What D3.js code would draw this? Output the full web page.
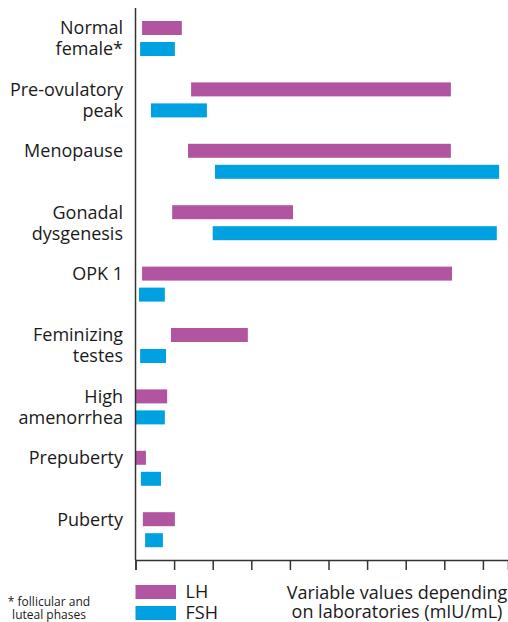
<!DOCTYPE html>
<html>
<head>
<meta charset="utf-8">
<script src="https://cdn.jsdelivr.net/npm/d3@7"></script>
<style>
  body { margin: 0; background: #fff; }
  svg text { font-family: "Open Sans", Lato, sans-serif; fill: #1a1a1a; }
</style>
</head>
<body>
<div id="chart"></div>
<script>
// categories, label lines, and ranges (in axis units, ticks at 0..9)
const categories = ['Normal female', 'Pre-ovulatory peak', 'Menopause', 'Gonadal dysgenesis',
  'OPK 1', 'Feminizing testes', 'High amenorrhea', 'Prepuberty', 'Puberty'];
const labelLines = [['Normal', 'female*'], ['Pre-ovulatory', 'peak'], ['Menopause'],
  ['Gonadal', 'dysgenesis'], ['OPK 1'], ['Feminizing', 'testes'], ['High', 'amenorrhea'],
  ['Prepuberty'], ['Puberty']];
const lhRanges = [[0.17, 1.2], [1.44, 8.17], [1.36, 8.17], [0.95, 4.08], [0.17, 8.2],
  [0.92, 2.91], [0, 0.82], [0, 0.27], [0.19, 1.02]];
const fshRanges = [[0.12, 1.02], [0.4, 1.85], [2.06, 9.42], [2.0, 9.36], [0.09, 0.76],
  [0.12, 0.79], [0, 0.76], [0.14, 0.66], [0.25, 0.71]];
const tickValues = [0, 1, 2, 3, 4, 5, 6, 7, 8, 9];
const seriesNames = ['LH', 'FSH'];
const colors = { LH: '#b155a0', FSH: '#00a1e0' };

const W = 508, H = 622;
const axisX = 135.5, axisTop = 8, baseY = 560;

const svg = d3.select('#chart').append('svg')
    .attr('width', W)
    .attr('height', H);

const x = d3.scaleLinear()
    .domain([0, 9.65])
    .range([axisX, W]);

const y = d3.scaleBand()
    .domain(categories)
    .range([21, 21 + 61.4 * 9])
    .paddingInner(0)
    .paddingOuter(0);

const barH = 14, gap = 21;

// bars
const groups = svg.append('g').selectAll('g')
    .data(categories)
  .enter().append('g');

groups.append('rect')
    .attr('x', (d, i) => x(lhRanges[i][0]))
    .attr('width', (d, i) => x(lhRanges[i][1]) - x(lhRanges[i][0]))
    .attr('y', d => y(d))
    .attr('height', barH)
    .attr('fill', colors.LH);

groups.append('rect')
    .attr('x', (d, i) => x(fshRanges[i][0]))
    .attr('width', (d, i) => x(fshRanges[i][1]) - x(fshRanges[i][0]))
    .attr('y', d => y(d) + gap)
    .attr('height', barH)
    .attr('fill', colors.FSH);

// category labels, one line per bar row
groups.each(function(d, i) {
    const g = d3.select(this);
    labelLines[i].forEach((line, k) => {
        g.append('text')
            .attr('x', 123)
            .attr('y', y(d) + barH / 2 + k * gap)
            .attr('dy', '0.35em')
            .attr('text-anchor', 'end')
            .style('font-size', '18px')
            .text(line);
    });
});

// axes
const axis = svg.append('g')
    .attr('transform', `translate(0, ${baseY})`)
    .call(d3.axisBottom(x).tickValues(tickValues).tickSize(10).tickFormat(''));
axis.select('.domain').attr('stroke', '#333').attr('stroke-width', 1.5);
axis.selectAll('.tick line').attr('stroke', '#333').attr('stroke-width', 1.5);

svg.append('line')
    .attr('x1', axisX).attr('x2', axisX)
    .attr('y1', axisTop).attr('y2', baseY)
    .attr('stroke', '#333')
    .attr('stroke-width', 1.5);

// legend
const legend = svg.append('g').selectAll('g')
    .data(seriesNames)
  .enter().append('g')
    .attr('transform', (d, i) => `translate(${axisX}, ${585 + i * 21})`);
legend.append('rect')
    .attr('width', 40.5)
    .attr('height', barH)
    .attr('fill', d => colors[d]);
legend.append('text')
    .attr('x', 50)
    .attr('y', barH / 2)
    .attr('dy', '0.35em')
    .style('font-size', '18px')
    .text(d => d);

// axis title
svg.append('text')
    .attr('x', 397).attr('y', 593)
    .attr('dy', '0.35em')
    .attr('text-anchor', 'middle')
    .style('font-size', '18px')
    .text('Variable values depending');
svg.append('text')
    .attr('x', 397).attr('y', 612)
    .attr('dy', '0.35em')
    .attr('text-anchor', 'middle')
    .style('font-size', '18px')
    .text('on laboratories (mIU/mL)');

// footnote
svg.append('text')
    .attr('x', 49).attr('y', 602)
    .attr('dy', '0.35em')
    .attr('text-anchor', 'middle')
    .style('font-size', '12px')
    .text('* follicular and');
svg.append('text')
    .attr('x', 49).attr('y', 615)
    .attr('dy', '0.35em')
    .attr('text-anchor', 'middle')
    .style('font-size', '12px')
    .text('luteal phases');
</script>
</body>
</html>
